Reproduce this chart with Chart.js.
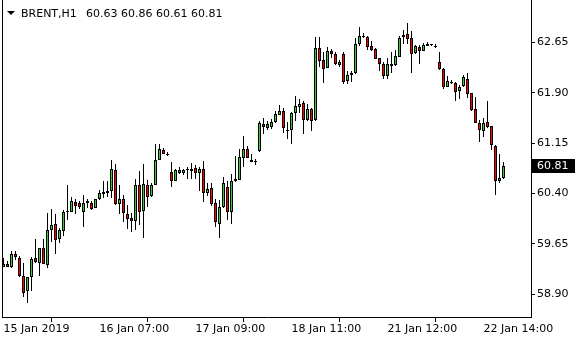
<!DOCTYPE html>
<html>
<head>
<meta charset="utf-8">
<script src="https://cdn.jsdelivr.net/npm/chart.js@4.4.1/dist/chart.umd.min.js"></script>
<style>
  html, body { margin: 0; padding: 0; background: #fff; }
  #wrap { width: 580px; height: 340px; position: relative; }
</style>
</head>
<body>
<div id="wrap"><canvas id="chart"></canvas></div>
<script>
// BRENT H1 candles (one entry per hourly bar)
const symbol = 'BRENT,H1';
const opens = [
  59.31, 59.35, 59.31, 59.50, 59.44, 59.17, 58.94, 59.15, 59.44, 59.36,
  59.58, 59.33, 59.86, 59.95, 59.72, 59.84, 60.13, 60.13, 60.27, 60.25,
  60.12, 60.26, 60.25, 60.18, 60.31, 60.39, 60.41, 60.43, 60.75, 60.24,
  60.31, 60.10, 60.03, 59.99, 60.53, 60.14, 60.53, 60.36, 60.53, 60.90,
  61.05, 60.99, 60.72, 60.59, 60.71, 60.70, 60.75, 60.74, 60.78, 60.71,
  60.76, 60.40, 60.48, 60.25, 59.95, 60.19, 60.50, 60.13, 60.58, 60.60,
  60.93, 61.06, 60.90, 60.88, 61.03, 61.43, 61.37, 61.39, 61.46, 61.57,
  61.62, 61.34, 61.35, 61.59, 61.68, 61.74, 61.49, 61.65, 61.49, 62.56,
  62.38, 62.27, 62.52, 62.47, 62.31, 62.48, 62.08, 62.17, 62.19, 62.62,
  62.75, 62.73, 62.59, 62.55, 62.41, 62.32, 62.15, 62.30, 62.31, 62.43,
  62.73, 62.77, 62.72, 62.49, 62.58, 62.52, 62.60, 62.62, 62.60, 62.35,
  62.25, 61.99, 62.06, 62.05, 61.93, 62.00, 62.11, 61.89, 61.65, 61.45,
  61.33, 61.46, 61.40, 61.11, 60.58, 60.63
];
const highs = [
  59.44, 59.40, 59.54, 59.54, 59.47, 59.37, 59.16, 59.46, 59.72, 59.58,
  59.72, 60.11, 60.16, 60.09, 59.89, 60.15, 60.53, 60.35, 60.31, 60.28,
  60.37, 60.31, 60.28, 60.32, 60.45, 60.58, 60.58, 60.90, 60.84, 60.53,
  60.38, 60.23, 60.11, 60.62, 60.74, 60.84, 60.60, 60.55, 61.14, 61.14,
  61.08, 61.02, 60.87, 60.77, 60.79, 60.77, 60.79, 60.85, 60.83, 60.79,
  60.88, 60.56, 60.56, 60.31, 60.30, 60.64, 60.58, 60.69, 60.96, 61.06,
  61.26, 61.11, 60.98, 60.91, 61.48, 61.53, 61.48, 61.51, 61.62, 61.72,
  61.67, 61.47, 61.61, 61.85, 61.80, 61.78, 61.73, 61.67, 62.73, 62.73,
  62.51, 62.58, 62.55, 62.50, 62.38, 62.51, 62.22, 62.23, 62.72, 62.88,
  62.79, 62.74, 62.67, 62.56, 62.42, 62.35, 62.41, 62.50, 62.54, 62.75,
  62.84, 62.94, 62.82, 62.61, 62.61, 62.64, 62.65, 62.62, 62.62, 62.50,
  62.26, 62.15, 62.09, 62.06, 62.01, 62.16, 62.19, 61.89, 61.84, 61.50,
  61.52, 61.77, 61.41, 61.12, 60.98, 60.86
];
const lows = [
  59.30, 59.30, 59.29, 59.41, 59.16, 58.86, 58.77, 58.94, 59.37, 59.17,
  59.35, 59.29, 59.67, 59.49, 59.66, 59.76, 60.01, 60.12, 60.10, 60.16,
  59.90, 60.18, 60.15, 60.18, 60.30, 60.33, 60.34, 60.33, 60.23, 60.10,
  59.97, 59.87, 59.83, 59.86, 59.93, 59.73, 60.19, 60.34, 60.52, 60.89,
  60.98, 60.96, 60.49, 60.58, 60.69, 60.68, 60.62, 60.62, 60.62, 60.43,
  60.27, 60.36, 60.21, 59.90, 59.73, 60.18, 60.01, 59.95, 60.57, 60.60,
  60.80, 60.92, 60.86, 60.83, 61.02, 61.28, 61.35, 61.36, 61.45, 61.57,
  61.30, 61.21, 61.13, 61.48, 61.60, 61.28, 61.48, 61.33, 61.48, 62.28,
  62.05, 62.26, 62.41, 62.31, 62.28, 62.03, 62.03, 62.06, 62.18, 62.60,
  62.72, 62.54, 62.52, 62.40, 62.22, 62.10, 62.11, 62.19, 62.29, 62.43,
  62.62, 62.62, 62.20, 62.47, 62.33, 62.52, 62.59, 62.59, 62.57, 62.24,
  61.96, 61.98, 62.03, 61.77, 61.81, 61.99, 61.82, 61.63, 61.45, 61.16,
  61.24, 61.38, 61.05, 60.37, 60.55, 60.61
];
const closes = [
  59.35, 59.31, 59.50, 59.46, 59.17, 58.92, 59.15, 59.43, 59.38, 59.58,
  59.35, 59.86, 59.93, 59.71, 59.85, 60.13, 60.14, 60.29, 60.21, 60.20,
  60.26, 60.28, 60.17, 60.31, 60.40, 60.42, 60.43, 60.77, 60.24, 60.31,
  60.11, 60.02, 59.99, 60.52, 60.12, 60.54, 60.35, 60.53, 60.90, 61.06,
  60.99, 60.97, 60.58, 60.75, 60.75, 60.75, 60.77, 60.77, 60.71, 60.76,
  60.40, 60.47, 60.24, 59.97, 60.19, 60.56, 60.12, 60.59, 60.62, 60.94,
  61.06, 60.92, 60.87, 60.88, 61.45, 61.39, 61.43, 61.46, 61.58, 61.62,
  61.37, 61.33, 61.59, 61.70, 61.73, 61.49, 61.65, 61.48, 62.56, 62.37,
  62.25, 62.52, 62.47, 62.32, 62.35, 62.06, 62.16, 62.19, 62.62, 62.75,
  62.75, 62.58, 62.53, 62.40, 62.32, 62.15, 62.33, 62.33, 62.44, 62.72,
  62.76, 62.70, 62.48, 62.59, 62.52, 62.61, 62.63, 62.62, 62.60, 62.25,
  61.99, 62.07, 62.06, 61.91, 61.99, 62.13, 61.88, 61.64, 61.45, 61.34,
  61.45, 61.39, 61.12, 60.59, 60.63, 60.81
];

// time axis: one label every 24 bars
const timeLabels = ['15 Jan 2019', '16 Jan 07:00', '17 Jan 09:00', '18 Jan 11:00', '21 Jan 12:00', '22 Jan 14:00'];
const labelStep = 24;
const priceTicks = [58.90, 59.65, 60.40, 61.15, 61.90, 62.65];

const bullColor = 'rgb(50, 205, 50)';
const bearColor = 'rgb(255, 0, 0)';
const fontFamily = "'DejaVu Sans', sans-serif";

Chart.defaults.font.family = fontFamily;
Chart.defaults.font.size = 11;
Chart.defaults.color = '#000';

const bodies = opens.map((o, i) => ({ x: i, y: [o, closes[i]] }));
const upperWicks = highs.map((h, i) => ({ x: i, y: [Math.max(opens[i], closes[i]), h] }));
const lowerWicks = lows.map((l, i) => ({ x: i, y: [l, Math.min(opens[i], closes[i])] }));
const bodyColors = opens.map((o, i) => closes[i] >= o ? bullColor : bearColor);

// every candle piece snapped to whole pixels; pieces never overlap,
// so the result does not depend on which dataset is painted last
const snapPlugin = {
  id: 'snapBars',
  beforeDatasetsDraw(chart) {
    chart.data.datasets.forEach((ds, di) => {
      chart.getDatasetMeta(di).data.forEach(el => {
        const cx = Math.floor(el.x) + 0.5;
        let top = Math.round(Math.min(el.y, el.base));
        let bot = Math.round(Math.max(el.y, el.base));
        if (ds.part !== 'wick' && bot - top < 1) bot = top + 1;
        el.width = 1;
        el.x = cx;
        switch (ds.part) {
          case 'fill':
            top += 1; bot = Math.max(top, bot - 1); break;
          case 'capTop':
            el.width = 3; bot = top + 1; break;
          case 'capBottom':
            el.width = 3; top = bot - 1; break;
          case 'edgeL':
            el.x = cx - 1; break;
          case 'edgeR':
            el.x = cx + 1; break;
          default:
            break;
        }
        el.y = top;
        el.base = bot;
      });
    });
  }
};

// frame on the left, symbol header, current price tag
const mtPlugin = {
  id: 'mtDecor',
  afterDraw(chart) {
    const ctx = chart.ctx;
    const area = chart.chartArea;
    ctx.save();
    ctx.strokeStyle = '#000';
    ctx.lineWidth = 1;
    ctx.beginPath();
    ctx.moveTo(area.left - 0.5, 0);
    ctx.lineTo(area.left - 0.5, area.bottom + 1);
    ctx.stroke();

    // header
    ctx.fillStyle = '#000';
    ctx.beginPath();
    ctx.moveTo(7, 11);
    ctx.lineTo(15, 11);
    ctx.lineTo(11, 15);
    ctx.closePath();
    ctx.fill();
    ctx.font = '11px ' + fontFamily;
    ctx.textBaseline = 'alphabetic';
    ctx.textAlign = 'left';
    const n = closes.length - 1;
    ctx.fillText(symbol, 21, 17);
    ctx.fillText([opens[n], highs[n], lows[n], closes[n]].map(v => v.toFixed(2)).join(' '), 86, 17);

    // last price box
    const last = closes[n];
    const y = Math.round(chart.scales.y.getPixelForValue(last));
    ctx.fillStyle = '#000';
    ctx.fillRect(area.right + 1, y - 7, 43, 14);
    ctx.fillStyle = '#fff';
    ctx.textBaseline = 'middle';
    ctx.fillText(last.toFixed(2), area.right + 6, y);
    ctx.restore();
  }
};

function piece(part, data, color) {
  return {
    part,
    data,
    backgroundColor: color,
    borderWidth: 0,
    barPercentage: 1,
    categoryPercentage: 1,
    barThickness: 1,
    grouped: false,
    inflateAmount: 0
  };
}

const ctx = document.getElementById('chart').getContext('2d');
new Chart(ctx, {
  type: 'bar',
  data: {
    datasets: [
      piece('fill', bodies, bodyColors),
      piece('capTop', bodies, '#000'),
      piece('capBottom', bodies, '#000'),
      piece('edgeL', bodies, '#000'),
      piece('edgeR', bodies, '#000'),
      piece('wick', upperWicks, '#000'),
      piece('wick', lowerWicks, '#000')
    ]
  },
  options: {
    animation: false,
    responsive: true,
    maintainAspectRatio: false,
    events: [],
    layout: { padding: { left: 3, top: 0, right: 0, bottom: 0 } },
    plugins: { legend: { display: false }, tooltip: { enabled: false } },
    scales: {
      x: {
        type: 'linear',
        min: -0.125,
        max: 131.875,
        offset: false,
        grid: { drawOnChartArea: false, drawTicks: true, tickLength: 5, color: '#000' },
        border: { display: true, color: '#000' },
        afterBuildTicks: (s) => { s.ticks = timeLabels.map((t, k) => ({ value: k * labelStep })); },
        afterFit: (s) => { s.height = 23; s.paddingLeft = 0; s.paddingRight = 0; },
        ticks: {
          align: 'start',
          padding: 1,
          autoSkip: false,
          maxRotation: 0,
          callback: (v) => timeLabels[Math.round(v / labelStep)]
        }
      },
      y: {
        position: 'right',
        min: 58.559,
        max: 63.28,
        grid: { drawOnChartArea: false, drawTicks: true, tickLength: 4, color: '#000' },
        border: { display: true, color: '#000' },
        afterBuildTicks: (s) => { s.ticks = priceTicks.map(v => ({ value: v })); },
        afterFit: (s) => { s.width = 49; s.paddingTop = 0; s.paddingBottom = 0; },
        ticks: {
          padding: 2,
          autoSkip: false,
          callback: (v) => Number(v).toFixed(2)
        }
      }
    }
  },
  plugins: [snapPlugin, mtPlugin]
});
</script>
</body>
</html>
